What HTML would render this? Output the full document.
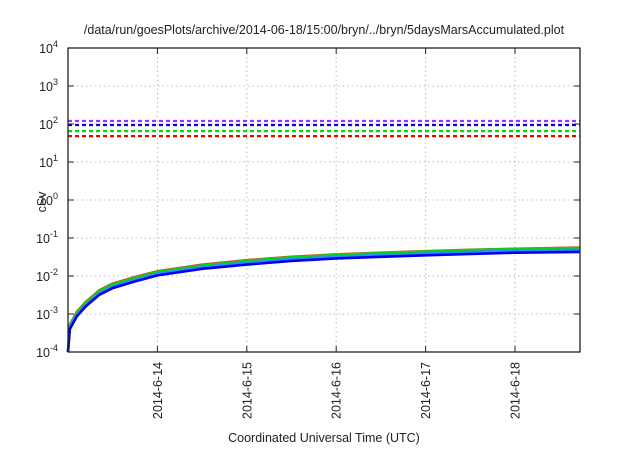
<!DOCTYPE html>
<html><head><meta charset="utf-8"><style>
body{margin:0;background:#fff;}
svg text{font-family:"Liberation Sans",sans-serif;fill:#222;}
</style></head><body>
<svg id="chart" width="640" height="448" xmlns="http://www.w3.org/2000/svg">
<text x="324" y="34" font-size="12.5" text-anchor="middle">/data/run/goesPlots/archive/2014-06-18/15:00/bryn/../bryn/5daysMarsAccumulated.plot</text>
<g id="grid"></g><g id="series"></g><g id="axes"></g>
<text transform="translate(46,202) rotate(-90)" font-size="12.5" text-anchor="middle">cSv</text>
<text x="324" y="442" font-size="12.5" text-anchor="middle">Coordinated Universal Time (UTC)</text>
</svg>
<script>
const xTickLabels=["2014-6-14","2014-6-15","2014-6-16","2014-6-17","2014-6-18"];
const yTickExps=[-4,-3,-2,-1,0,1,2,3,4];
const thresholdValues=[120,94,65,48];
const thresholdColors=["#9b30ff","#0000ee","#00dd00","#ee0000"];
const timeDays=[0,0.02,0.1,0.2,0.35,0.5,0.75,1,1.5,2,2.5,3,3.5,4,4.5,5,5.72];
const redSeries=[1e-4,5.2e-4,1.15e-3,2.1e-3,4.2e-3,6.3e-3,9.4e-3,0.0133,0.0198,0.026,0.032,0.037,0.041,0.045,0.049,0.052,0.056];
const greenSeries=[1e-4,5e-4,1.1e-3,2e-3,4e-3,6e-3,9e-3,0.0128,0.019,0.025,0.031,0.036,0.040,0.044,0.048,0.051,0.055];
const lightBlueSeries=[1e-4,4.4e-4,9.6e-4,1.75e-3,3.5e-3,5.3e-3,8e-3,0.0115,0.017,0.0225,0.028,0.032,0.036,0.039,0.043,0.046,0.049];
const blueSeries=[1e-4,4e-4,8.7e-4,1.6e-3,3.2e-3,4.8e-3,7.2e-3,0.0104,0.0155,0.020,0.025,0.029,0.032,0.035,0.038,0.041,0.043];
const L=68,R=580,T=48,B=352,DAY=89.4,XMAX=(R-L)/DAY;
const x=d=>L+d*DAY;
const y=v=>B-(Math.log10(v)+4)*(B-T)/8;
const NS="http://www.w3.org/2000/svg";
function mk(tag,attrs,parent){const e=document.createElementNS(NS,tag);for(const k in attrs)e.setAttribute(k,attrs[k]);parent.appendChild(e);return e;}
const grid=document.getElementById('grid'),axes=document.getElementById('axes'),ser=document.getElementById('series');
yTickExps.forEach((p,i)=>{const yy=y(Math.pow(10,p));
 if(i>0&&i<yTickExps.length-1){const g=mk('line',{x1:L,x2:R,y1:yy,y2:yy,stroke:'#bbb','stroke-dasharray':'1.5,3'},grid);
 
 }
 const t1=mk('line',{x1:L,x2:L+6,y1:yy,y2:yy,stroke:'#222'},axes);
 
 
 const t2=mk('line',{x1:R-6,x2:R,y1:yy,y2:yy,stroke:'#222'},axes);
 
 
 const tx=mk('text',{x:L-10,y:yy+5,'font-size':'12.5','text-anchor':'end'},axes);
 
 
 tx.innerHTML='10<tspan dy="-6" font-size="9">'+p+'</tspan>';
});
xTickLabels.forEach((lab,i)=>{const xx=x(i+1);
 const g=mk('line',{x1:xx,x2:xx,y1:T,y2:B,stroke:'#bbb','stroke-dasharray':'1.5,3'},grid);
 
 
 const t1=mk('line',{x1:xx,x2:xx,y1:B-6,y2:B,stroke:'#222'},axes);
 
 
 const t2=mk('line',{x1:xx,x2:xx,y1:T,y2:T+6,stroke:'#222'},axes);
 
 
 const tx=mk('text',{transform:`translate(${xx+4.5},${B+10}) rotate(-90)`,'font-size':'12.5','text-anchor':'end'},axes);
 
 
 tx.textContent=lab;
});
const frame=mk('rect',{x:L,y:T,width:R-L,height:B-T,fill:'none',stroke:'#222','stroke-width':1.3},axes);


thresholdValues.forEach((v,i)=>{
 const l=mk('line',{x1:L,x2:R,y1:y(v),y2:y(v),stroke:thresholdColors[i],'stroke-width':2.2,'stroke-dasharray':'4,3'},ser);
 
 
});
[[redSeries,'#e04020'],[greenSeries,'#10d010'],[lightBlueSeries,'#2090ff'],[blueSeries,'#0000ee']].forEach(([s,c])=>{
 const pts=timeDays.map((d,i)=>x(Math.min(d,XMAX)).toFixed(1)+','+y(s[i]).toFixed(1)).join(' ');
 const p=mk('polyline',{points:pts,fill:'none',stroke:c,'stroke-width':2.6,'stroke-linejoin':'round'},ser);
 
 
});
</script>
</body></html>
